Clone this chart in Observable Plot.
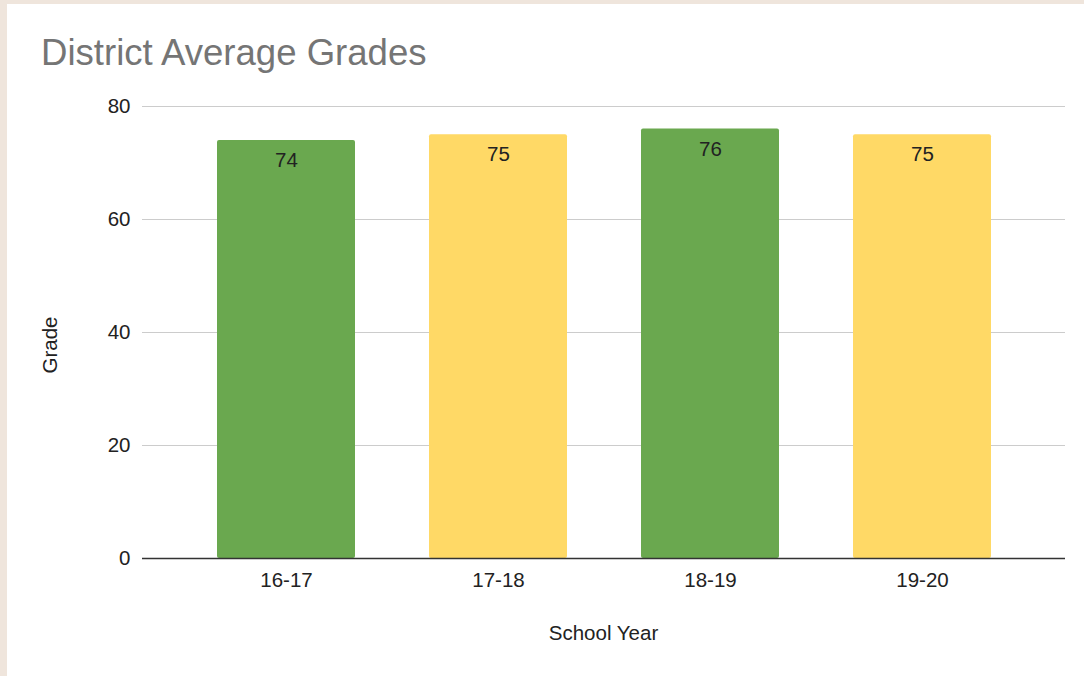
<!DOCTYPE html>
<html>
<head>
<meta charset="utf-8">
<script src="https://cdn.jsdelivr.net/npm/d3@7"></script>
<script src="https://cdn.jsdelivr.net/npm/@observablehq/plot@0.6"></script>
<style>
  html, body { margin: 0; padding: 0; }
  body { width: 1084px; height: 676px; background: #efe5dc; position: relative; overflow: hidden; font-family: Arial, "Liberation Sans", sans-serif; }
  #panel { position: absolute; left: 7px; top: 4px; width: 1077px; height: 672px; background: #fff; }
  #title { position: absolute; left: 34px; top: 28px; font-size: 36.6px; line-height: normal; color: #757575; white-space: nowrap; }
  #xlabel { position: absolute; top: 621px; font-size: 20.5px; color: #222; text-align: center; }
  #ylabel { position: absolute; left: 43px; top: 341px; font-size: 20.5px; color: #222; transform: translate(-50%, -50%) rotate(-90deg); white-space: nowrap; }
  #chart { position: absolute; left: 0; top: 0; }
</style>
</head>
<body>
<div id="panel">
  <div id="chart"></div>
  <div id="title">District Average Grades</div>
  <div id="ylabel">Grade</div>
</div>
<div id="xlabel" style="left:0;width:1207px;">School Year</div>
<script>
const years = ["16-17", "17-18", "18-19", "19-20"];
const grades = [74, 75, 76, 75];
const barColors = ["#6aa84f", "#ffd966", "#6aa84f", "#ffd966"];
const yTicks = [0, 20, 40, 60, 80];

const data = years.map((y, i) => ({year: y, grade: grades[i], color: barColors[i]}));

const chart = Plot.plot({
  width: 1077,
  height: 672,
  marginTop: 102,
  marginBottom: 118,
  marginLeft: 135,
  marginRight: 19,
  style: {fontFamily: "Arial, 'Liberation Sans', sans-serif", fontSize: "20.5px", color: "#222", background: "transparent"},
  x: {domain: years, padding: 0.35, label: null},
  y: {domain: [0, 80], ticks: yTicks, label: null},
  marks: [
    Plot.ruleY(yTicks.filter(t => t > 0), {stroke: "#cccccc", strokeWidth: 1, strokeOpacity: 1}),
    Plot.barY(data, {x: "year", y: "grade", fill: "color", rx: 2}),
    Plot.text(data, {x: "year", y: "grade", text: d => String(d.grade), dy: 20, fill: "#222", fontSize: 20.5}),
    Plot.ruleY([0], {stroke: "#333", strokeWidth: 1.5}),
    Plot.axisY({ticks: yTicks, tickSize: 0, tickPadding: 12, fontSize: 20.5, fill: "#222", label: null}),
    Plot.axisX({tickSize: 0, tickPadding: 14, fontSize: 20.5, fill: "#222", label: null})
  ]
});
document.getElementById("chart").appendChild(chart);
</script>
</body>
</html>
